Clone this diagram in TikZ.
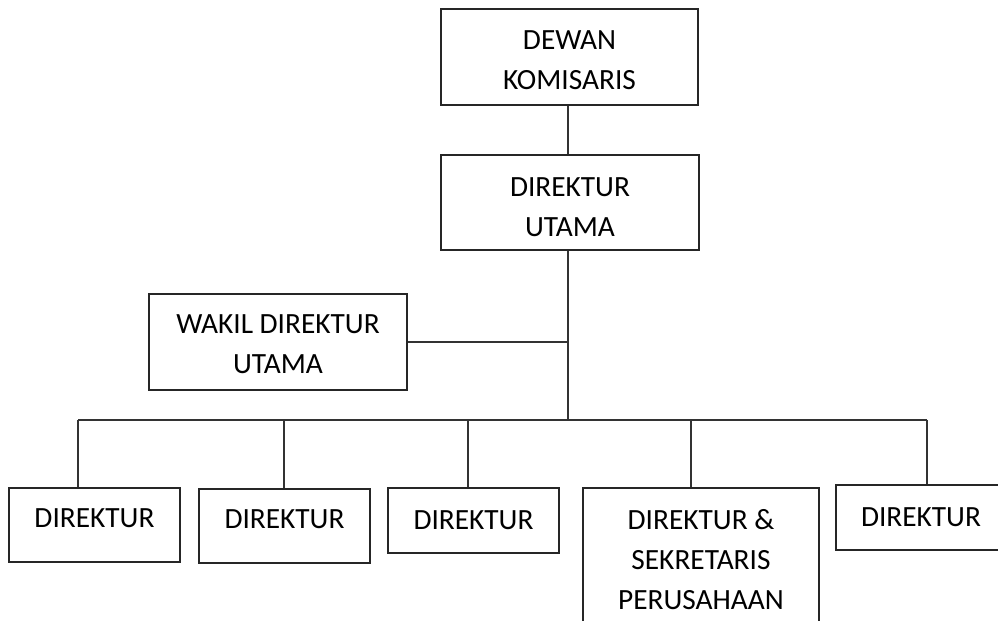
\documentclass[tikz,border=0pt]{standalone}
\usepackage{fontspec}
\setmainfont{Carlito}
\tikzset{
    unitbox/.style={draw=black!85, line width=0.75pt, rectangle, inner sep=0pt,
        align=center, font=\fontsize{16.7}{22.8}\selectfont},
    tallbox/.style={unitbox, text depth=7.4pt},
    link/.style={draw=black!80, line width=0.75pt}
}
\begin{document}
\begin{tikzpicture}[x=0.02cm, y=-0.02cm]

    \useasboundingbox (0,0) rectangle (998,621);
    \clip (0,0) rectangle (998,621);

    % top of the chart
    \node[unitbox,
        text height=37.5pt,
        minimum width=257*0.02cm,
        minimum height=96*0.02cm
    ] (dewan) at (569.5,57){DEWAN\\KOMISARIS};
    \node[unitbox,
        text height=38.5pt,
        minimum width=258*0.02cm,
        minimum height=95*0.02cm
    ] (utama) at (570,202.5){DIREKTUR\\UTAMA};
    \node[unitbox,
        text height=36.3pt,
        minimum width=258*0.02cm,
        minimum height=96*0.02cm
    ] (wakil) at (278,342){WAKIL DIREKTUR\\UTAMA};

    % directors
    \node[tallbox, minimum width=171*0.02cm, minimum height=74*0.02cm]
        (dir1) at (94.5,525){DIREKTUR};
    \node[tallbox, minimum width=171*0.02cm, minimum height=74*0.02cm]
        (dir2) at (284.5,526){DIREKTUR};
    \node[unitbox, minimum width=171*0.02cm, minimum height=65*0.02cm]
        (dir3) at (473.5,520.5){DIREKTUR};
    \node[unitbox, minimum width=236*0.02cm, minimum height=144*0.02cm]
        (dir4) at (701,560){DIREKTUR \&\\SEKRETARIS\\PERUSAHAAN};
    \node[unitbox, minimum width=170*0.02cm, minimum height=65*0.02cm]
        (dir5) at (921,517.5){DIREKTUR};

    % bus line
    \coordinate (bus) at (568,420);
    \coordinate (b1) at (78,420);
    \coordinate (b2) at (284,420);
    \coordinate (b3) at (468,420);
    \coordinate (b4) at (691,420);
    \coordinate (b5) at (927,420);

    \draw[link] (bus |- dewan.south) -- (bus |- utama.north);
    \draw[link] (bus |- utama.south) -- (bus);
    \draw[link] (wakil.east) -- (wakil.east -| bus);
    \draw[link] (b1) -- (b5);
    \draw[link] (b1) -- (b1 |- dir1.north);
    \draw[link] (b2) -- (b2 |- dir2.north);
    \draw[link] (b3) -- (b3 |- dir3.north);
    \draw[link] (b4) -- (b4 |- dir4.north);
    \draw[link] (b5) -- (b5 |- dir5.north);

\end{tikzpicture}
\end{document}
